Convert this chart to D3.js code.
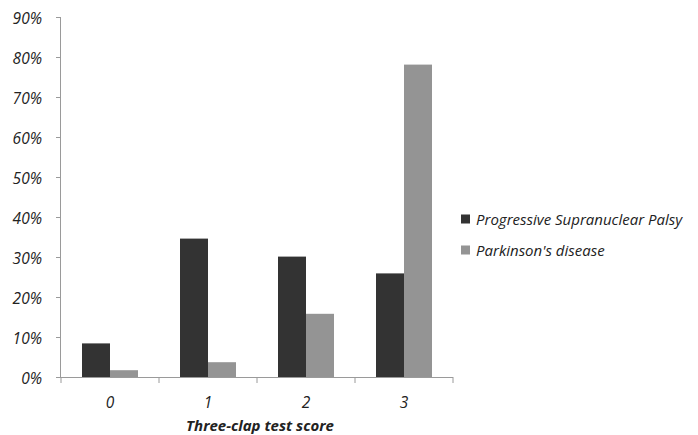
<!DOCTYPE html>
<html><head><meta charset="utf-8">
<script src="https://cdn.jsdelivr.net/npm/d3@7"></script>
<style>body{margin:0;background:#fff;} text{font-family:"Open Sans",sans-serif;}</style>
</head><body><svg id="c" width="698" height="435"></svg>
<script>
const categories = ["0","1","2","3"];
const seriesNames = ["Progressive Supranuclear Palsy","Parkinson's disease"];
const psp = [8.4, 34.6, 30.1, 25.9];
const pd = [1.7, 3.7, 15.8, 78.1];
const yTicks = [0,10,20,30,40,50,60,70,80,90];
const colors = ["#333333","#949494"];

const svg = d3.select("#c");
const m = {l:61, r:245, t:17, b:58};
const x = d3.scaleBand().domain(categories).range([m.l, 453]).paddingInner(0).paddingOuter(0);
const y = d3.scaleLinear().domain([0,90]).range([377, m.t]);
const x1 = d3.scaleBand().domain([0,1]).range([0, 56]);

const series = [psp, pd];
const g = svg.append("g");
categories.forEach((c,i)=>{
  series.forEach((s,j)=>{
    g.append("rect")
      .attr("x", x(c) + (x.bandwidth()-56)/2 + x1(j))
      .attr("y", y(s[i]))
      .attr("width", x1.bandwidth())
      .attr("height", y(0)-y(s[i]))
      .attr("fill", colors[j]);
  });
});

// y axis
const ya = svg.append("g").attr("transform",`translate(${m.l},0)`)
  .call(d3.axisLeft(y).tickValues(yTicks).tickSize(5).tickFormat(d=>d+"%"));
ya.select(".domain").attr("stroke","#9a9a9a").attr("d",`M-0.5,${y(90)}V${y(0)}`);
ya.selectAll(".tick line").attr("stroke","#9a9a9a");
ya.selectAll(".tick text").attr("x",-19).attr("dy","0.45em").attr("font-size",15.5).attr("font-style","italic").attr("fill","#222");

// x axis
const xa = svg.append("g").attr("transform",`translate(0,${y(0)})`);
xa.append("line").attr("x1",m.l-5).attr("x2",453).attr("y1",0.5).attr("y2",0.5).attr("stroke","#9a9a9a");
const edges = categories.map(c=>x(c)).concat([x(categories[categories.length-1])+x.bandwidth()]);
edges.forEach(e=>xa.append("line").attr("x1",e).attr("x2",e).attr("y1",0).attr("y2",6).attr("stroke","#9a9a9a"));
categories.forEach(c=>xa.append("text").attr("x",x(c)+x.bandwidth()/2).attr("y",31)
  .attr("text-anchor","middle").attr("font-size",15.5).attr("font-style","italic").attr("fill","#222").text(c));

svg.append("text").attr("x",260).attr("y",430.5).attr("text-anchor","middle")
  .attr("font-size",15).attr("font-style","italic").attr("font-weight","bold").attr("fill","#222").text("Three-clap test score");

// legend
seriesNames.forEach((n,j)=>{
  const ly = 219 + j*31;
  svg.append("rect").attr("x",461).attr("y",ly-4.5).attr("width",9).attr("height",9).attr("fill",colors[j]);
  svg.append("text").attr("x",476).attr("y",ly+5.5).attr("font-size",15).attr("font-style","italic").attr("fill","#222").text(n);
});
</script></body></html>
